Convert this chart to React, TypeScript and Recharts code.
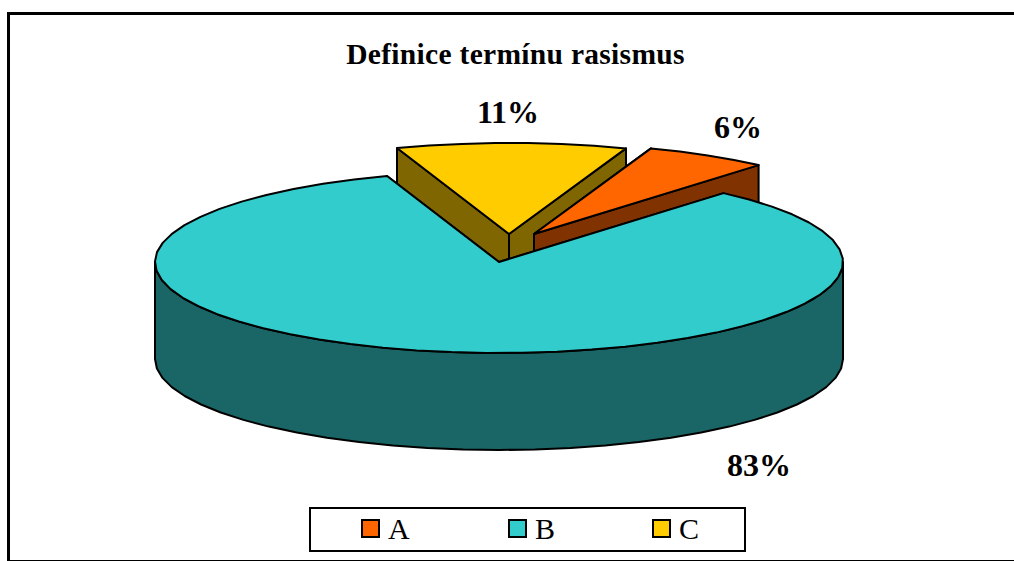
import { Legend, Pie, PieChart } from 'recharts';

// values, in drawing order (back slices first)
const names = ['C', 'A', 'B'];
const shares = [10.8, 5.8, 83.4];
const topColors = ['#FFCC00', '#FF6600', '#33CCCC'];
const legendOrder = ['A', 'B', 'C'];

const chartData = names.map((name, i) => ({ name, value: shares[i], fill: topColors[i] }));

// 3D look of the original
const wallColors: Record<string, string> = { A: '#803300', B: '#1A6666', C: '#806600' };
const explode: Record<string, [number, number]> = { A: [35, -28], B: [0, 0], C: [10, -28] };
const labelPos: Record<string, [number, number]> = { A: [738, 138], B: [759, 476], C: [508, 123] };
const legendX: Record<string, number> = { A: 361, B: 508, C: 652 };

const CX = 499;
const CY = 262;
const RX = 344;
const RY = 91;
const DEPTH = 97;
const FONT = '"Liberation Serif", "Times New Roman", serif';

function arcPoints(cx: number, cy: number, r: number, from: number, to: number) {
  // angles in recharts degrees, going clockwise from "from" to "to"
  const pts: [number, number][] = [];
  const n = Math.max(1, Math.ceil(Math.abs(from - to) / 6));
  for (let i = 0; i <= n; i++) {
    const a = ((from + ((to - from) * i) / n) * Math.PI) / 180;
    pts.push([cx + r * Math.cos(a), cy - r * Math.sin(a) * (RY / RX)]);
  }
  return pts;
}

const toPath = (pts: [number, number][]) =>
  'M' + pts.map((p) => p[0].toFixed(1) + ' ' + p[1].toFixed(1)).join('L') + 'Z';

function Slice3D(props: any) {
  const { cx, cy, outerRadius, startAngle, endAngle, fill } = props;
  const name = props.name ?? props.payload?.name;
  const [dx, dy] = explode[name];
  const x = cx + dx;
  const y = cy + dy;
  const arc = arcPoints(x, y, outerRadius, startAngle, endAngle);
  const first = arc[0];
  const last = arc[arc.length - 1];
  const down = (p: [number, number]): [number, number] => [p[0], p[1] + DEPTH];
  const apex: [number, number] = [x, y];
  const wall = wallColors[name];

  // only the front half of the rim is seen (0..-180 in recharts degrees)
  let front: [number, number][] = [];
  const hi = Math.max(startAngle, endAngle);
  const lo = Math.min(startAngle, endAngle);
  const from = Math.min(hi, 0);
  const to = Math.max(lo, -180);
  if (from > to) front = arcPoints(x, y, outerRadius, from, to);

  return (
    <g>
      <path d={toPath([apex, first, down(first), down(apex)])} fill={wall} stroke="#000" strokeWidth={2} strokeLinejoin="round" />
      <path d={toPath([apex, last, down(last), down(apex)])} fill={wall} stroke="#000" strokeWidth={2} strokeLinejoin="round" />
      {front.length > 0 && (
        <path d={toPath([...front, ...front.map(down).reverse()])} fill={wall} stroke="#000" strokeWidth={2} strokeLinejoin="round" />
      )}
      <path d={toPath([apex, ...arc])} fill={fill} stroke="#000" strokeWidth={2} strokeLinejoin="round" />
    </g>
  );
}

function renderLabel(props: any) {
  const name = props.name ?? props.payload?.name;
  const [x, y] = labelPos[name];
  return (
    <text x={x} y={y} textAnchor="middle" fontFamily={FONT} fontWeight="bold" fontSize={32} fill="#000">
      {Math.round(props.percent * 100) + '%'}
    </text>
  );
}

function LegendBox(props: any) {
  const items = legendOrder.map((n) => props.payload?.find((p: any) => p.value === n)).filter(Boolean);
  return (
    <div style={{ position: 'relative', width: 433, height: 41, border: '2px solid #000', background: '#fff' }}>
      {items.map((p: any) => (
        <div key={p.value}>
          <div
            style={{
              position: 'absolute',
              left: legendX[p.value] - 311,
              top: 10,
              width: 15,
              height: 15,
              border: '2px solid #000',
              background: p.color,
            }}
          />
          <div
            style={{
              position: 'absolute',
              left: legendX[p.value] - 311 + 27,
              top: 4,
              fontFamily: FONT,
              fontSize: 30,
              lineHeight: '32px',
              color: '#000',
            }}
          >
            {p.value}
          </div>
        </div>
      ))}
    </div>
  );
}

export default function App() {
  return (
    <div style={{ position: 'fixed', left: 0, top: 0, width: 1014, height: 561, background: '#fff', overflow: 'hidden' }}>
      <div
        style={{
          position: 'absolute',
          left: 7,
          top: 12,
          width: 1020,
          height: 545,
          border: '3px solid #000',
          borderRightWidth: 0,
        }}
      />
      <div style={{ position: 'absolute', left: 0, top: 0 }}>
        <PieChart width={1014} height={561} margin={{ top: 0, right: 0, bottom: 0, left: 0 }}>
          <text x={515.5} y={64} textAnchor="middle" fontFamily={FONT} fontWeight="bold" fontSize={29.5} letterSpacing={0.3} fill="#000">
            Definice termínu rasismus
          </text>
          <Pie
            data={chartData}
            dataKey="value"
            nameKey="name"
            cx={CX}
            cy={CY}
            innerRadius={0}
            outerRadius={RX}
            startAngle={109}
            endAngle={-251}
            shape={Slice3D}
            label={renderLabel}
            labelLine={false}
            isAnimationActive={false}
          />
          <Legend content={LegendBox} wrapperStyle={{ position: 'absolute', left: 309, top: 507, width: 437, bottom: 'auto' }} />
        </PieChart>
      </div>
    </div>
  );
}
